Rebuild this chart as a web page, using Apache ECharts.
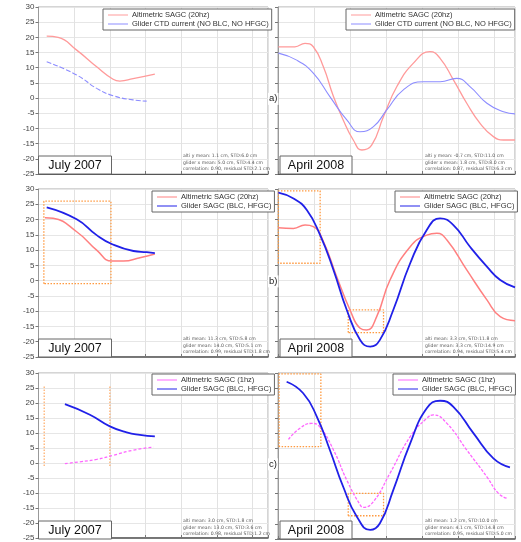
<!DOCTYPE html>
<html><head><meta charset="utf-8">
<script src="https://cdn.jsdelivr.net/npm/echarts@6/dist/echarts.min.js"></script>
<style>html,body{margin:0;padding:0;background:#fff}#c{width:521px;height:542px}</style>
</head><body><div id="c"></div>
<script>
// ---------- data (x: along-track position in grid units, y: SAGC in cm) ----------
const yTicks = [-25,-20,-15,-10,-5,0,5,10,15,20,25,30];
const panelDates = ['July 2007','April 2008'];
const rowTags = ['a)','b)','c)'];

const altA_jul = [[0.23,20.4],[0.55,20.0],[1.07,15.8],[1.63,10.3],[2.09,6.2],[2.28,5.6],[2.65,6.4],[3.26,7.9]];
const ctdA_jul = [[0.23,12.0],[1.07,7.6],[1.63,3.2],[2.09,0.8],[2.65,-0.6],[3.03,-1.0]];
const altA_apr = [[0.01,16.9],[0.47,16.9],[0.75,18.0],[0.98,16.9],[1.26,10.3],[1.54,0.5],[1.81,-7.2],[2.09,-13.8],[2.33,-17.1],[2.60,-15.5],[2.93,-6.1],[3.30,3.8],[3.76,11.5],[4.22,15.3],[4.50,13.1],[4.87,6.0],[5.24,-1.7],[5.61,-8.3],[5.98,-12.7],[6.26,-13.8],[6.58,-13.8]];
const ctdA_apr = [[0.01,14.8],[0.52,12.5],[0.98,8.2],[1.44,0.5],[1.91,-7.2],[2.28,-11.1],[2.65,-9.4],[3.02,-3.9],[3.48,2.7],[4.04,5.4],[4.50,5.4],[4.96,6.5],[5.33,3.8],[5.80,-1.7],[6.26,-4.5],[6.58,-5.2]];

const altB_jul = [[0.18,20.6],[0.41,20.4],[1.07,16.0],[1.63,10.0],[2.05,6.4],[2.38,6.4],[2.84,7.5],[3.26,8.7]];
const gldB_jul = [[0.23,24.0],[1.07,20.1],[1.63,14.9],[2.05,12.0],[2.66,9.7],[3.03,9.3],[3.26,9.0]];
const altB_apr = [[0.01,17.3],[0.43,17.1],[0.75,18.2],[0.98,17.7],[1.26,12.8],[1.63,1.3],[2.00,-9.6],[2.28,-15.6],[2.46,-16.2],[2.74,-11.8],[3.11,0.2],[3.67,11.1],[4.13,14.9],[4.41,15.5],[4.69,13.3],[5.24,3.5],[5.80,-6.3],[6.17,-11.8],[6.58,-13.1]];
const gldB_apr = [[0.01,28.8],[0.43,26.9],[0.80,23.1],[1.17,14.9],[1.54,3.5],[1.91,-9.6],[2.28,-19.4],[2.56,-21.6],[2.83,-19.4],[3.20,-9.6],[3.67,5.7],[4.13,16.6],[4.50,20.4],[4.87,18.2],[5.33,11.1],[5.80,4.6],[6.17,0.2],[6.58,-2.2]];

const altC_jul = [[0.74,-0.2],[1.16,0.4],[1.63,1.2],[2.10,2.6],[2.66,4.3],[3.22,5.3]];
const gldC_jul = [[0.74,19.6],[1.44,16.1],[2.00,12.2],[2.47,10.2],[2.84,9.4],[3.26,8.9]];
const altC_apr = [[0.29,8.0],[0.61,11.7],[0.94,13.3],[1.17,12.0],[1.54,4.5],[1.91,-5.5],[2.28,-13.7],[2.37,-14.5],[2.65,-12.6],[3.11,-3.2],[3.67,8.9],[4.13,15.0],[4.31,16.1],[4.69,13.3],[5.24,4.5],[5.80,-4.4],[6.12,-9.9],[6.35,-11.5]];
const gldC_apr = [[0.24,27.1],[0.70,23.3],[1.08,15.5],[1.44,4.5],[1.81,-7.7],[2.19,-17.6],[2.56,-22.0],[2.83,-19.8],[3.20,-8.8],[3.67,6.7],[4.13,18.3],[4.50,20.8],[4.87,18.8],[5.43,10.0],[5.98,1.7],[6.44,-1.3]];

// comparison windows [x0, x1, y0, y1]
const boxB_jul = [0.15,2.03,-1,26];
const boxB_apr1 = [0.01,1.17,5.7,29.4];
const boxB_apr2 = [1.95,2.93,-17.0,-9.6];
const barsC_jul = [[0.16,-1,26],[2.0,-1,26]];
const boxC_apr1 = [0.03,1.19,5.6,29.7];
const boxC_apr2 = [1.95,2.93,-17.3,-9.9];

const names = {
  alt20: 'Altimetric SAGC (20hz)',
  alt1: 'Altimetric SAGC (1hz)',
  ctd: 'Glider CTD current (NO BLC, NO HFGC)',
  gld: 'Glider SAGC (BLC, HFGC)'
};
const stats = [
  ['alti y mean: 1.1 cm, STD:6.0 cm','glider x mean: 5.0 cm, STD:4.4 cm','correlation: 0.90, residual STD:2.1 cm'],
  ['alti y mean: -0.7 cm, STD:11.0 cm','glider x mean: 1.8 cm, STD:8.0 cm','correlation: 0.87, residual STD:6.3 cm'],
  ['alti mean: 11.3 cm, STD:5.8 cm','glider mean: 14.0 cm, STD:5.1 cm','correlation: 0.99, residual STD:1.8 cm'],
  ['alti mean: 3.3 cm, STD:11.8 cm','glider mean: 3.3 cm, STD:14.9 cm','correlation: 0.94, residual STD:5.4 cm'],
  ['alti mean: 3.0 cm, STD:1.8 cm','glider mean: 13.0 cm, STD:3.6 cm','correlation: 0.98, residual STD:1.2 cm'],
  ['alti mean: 1.2 cm, STD:10.0 cm','glider mean: 4.1 cm, STD:14.8 cm','correlation: 0.95, residual STD:5.0 cm']
];

// ---------- layout ----------
const rows = [{top:7,h:167},{top:189,h:168},{top:373,h:166}];
const cols = [{left:38.5,w:229.5,max:6.43},{left:278,w:237,max:6.58}];
const FONT = '"Liberation Sans", Arial, sans-serif';

const grids=[], xAxes=[], yAxes=[], series=[], legends=[], graphics=[];
let gi=0;
rows.forEach((r,ri)=>{
  cols.forEach((c,ci)=>{
    grids.push({left:c.left, top:r.top, width:c.w, height:r.h, show:true, borderColor:'#aaa', borderWidth:1, backgroundColor:'#fff'});
    xAxes.push({type:'value', gridIndex:gi, min:0, max:c.max, interval:1,
      axisLine:{show:true, onZero:false, lineStyle:{color:'#555', width:ri===0?1:1.5}},
      axisTick:{show:true, inside:true, length:3, lineStyle:{color:'#777'}},
      axisLabel:{show:false},
      splitLine:{show:true, lineStyle:{color:'#e2e2e2', width:1}}});
    yAxes.push({type:'value', gridIndex:gi, min:yTicks[0], max:yTicks[yTicks.length-1], interval:5,
      axisLine:{show:true, onZero:false, lineStyle:{color:'#999'}},
      axisTick:{show:true, length:3, lineStyle:{color:'#777'}},
      axisLabel:{show:ci===0, fontSize:8, color:'#444', margin:4, fontFamily:FONT},
      splitLine:{show:true, lineStyle:{color:'#e6e6e6', width:1}}});
    gi++;
  });
});

function line(name, data, g, color, width, type){
  series.push({name:name, type:'line', xAxisIndex:g, yAxisIndex:g, data:data, smooth:0.5,
    symbol:'none', showSymbol:false, silent:true, z:3,
    lineStyle:{color:color, width:width, type:type||'solid'}});
}
function box(b, g){
  series.push({type:'line', xAxisIndex:g, yAxisIndex:g, symbol:'none', silent:true, z:2,
    data:[[b[0],b[2]],[b[0],b[3]],[b[1],b[3]],[b[1],b[2]],[b[0],b[2]]],
    lineStyle:{color:'#ff9a40', width:1.3, type:[1.5,1.5]}});
}
function bar(v, g){
  series.push({type:'line', xAxisIndex:g, yAxisIndex:g, symbol:'none', silent:true, z:2,
    data:[[v[0],v[1]],[v[0],v[2]]],
    lineStyle:{color:'#ffb070', width:1.3, type:[1.5,1.5]}});
}

const cRedA='#ff9a9a', cBlueA='#8c8cff', cRed='#ff8080', cBlue='#2020e8', cMag='#ff66ff';
line(names.alt20, altA_jul, 0, cRedA, 1.3);
line(names.ctd, ctdA_jul, 0, cBlueA, 1.1, [5,2]);
line(names.alt20, altA_apr, 1, cRedA, 1.3);
line(names.ctd, ctdA_apr, 1, cBlueA, 1.1);
box(boxB_jul, 2);
line(names.alt20, altB_jul, 2, cRed, 1.5);
line(names.gld, gldB_jul, 2, cBlue, 1.8);
box(boxB_apr1, 3); box(boxB_apr2, 3);
line(names.alt20, altB_apr, 3, cRed, 1.5);
line(names.gld, gldB_apr, 3, cBlue, 1.8);
barsC_jul.forEach(v=>bar(v,4));
line(names.alt1, altC_jul, 4, cMag, 1.3, [3,2]);
line(names.gld, gldC_jul, 4, cBlue, 1.8);
box(boxC_apr1, 5); box(boxC_apr2, 5);
line(names.alt1, altC_apr, 5, cMag, 1.3, [3,1.5]);
line(names.gld, gldC_apr, 5, cBlue, 1.8);

function legend(items, left, top){
  legends.push({orient:'vertical', left:left, top:top, itemGap:1, itemWidth:20, itemHeight:8,
    padding:[2,3,2,5], backgroundColor:'#fff', borderColor:'#666', borderWidth:1,
    selectedMode:false,
    textStyle:{fontSize:7.5, color:'#333', fontFamily:FONT, padding:[0,0,0,-1]},
    data:items.map(it=>({name:it[0], icon:'path://M0,4 L20,4 L20,5 L0,5 Z', itemStyle:{color:it[1]}}))});
}
legend([[names.alt20,cRedA],[names.ctd,cBlueA]], 103, 9);
legend([[names.alt20,cRedA],[names.ctd,cBlueA]], 346, 9);
legend([[names.alt20,cRed],[names.gld,cBlue]], 152, 191);
legend([[names.alt20,cRed],[names.gld,cBlue]], 395, 191);
legend([[names.alt1,cMag],[names.gld,cBlue]], 152, 374);
legend([[names.alt1,cMag],[names.gld,cBlue]], 393, 374);

// date boxes, row tags, stats
rows.forEach((r,ri)=>{
  const bottom = r.top + r.h;
  cols.forEach((c,ci)=>{
    const bx = c.left + (ci===0 ? 0 : 2), bw = ci===0 ? 73 : 72;
    graphics.push({type:'rect', x:bx, y:bottom-18, z:10,
      shape:{x:0, y:0, width:bw, height:18}, style:{fill:'#fff', stroke:'#666', lineWidth:1}});
    graphics.push({type:'text', x:bx+bw/2, y:bottom-8.5, z:11,
      style:{text:panelDates[ci], font:'12.5px '+FONT, fill:'#111', align:'center', verticalAlign:'middle'}});
    const st = stats[ri*2+ci];
    const sx = ci===0 ? 183 : 425;
    st.forEach((s,k)=>{
      graphics.push({type:'text', x:sx, y:bottom-18+k*6.5, z:11,
        style:{text:s, font:'4.6px "DejaVu Sans"', fill:'#555', verticalAlign:'middle'}});
    });
  });
  graphics.push({type:'text', x:268, y:r.top+r.h*0.55, z:12,
    style:{text:rowTags[ri], font:'9.5px '+FONT, fill:'#222', backgroundColor:'#fff', padding:[1,1], verticalAlign:'middle'}});
});

const chart = echarts.init(document.getElementById('c'), null, {renderer:'canvas'});
chart.setOption({animation:false, backgroundColor:'#fff', grid:grids, xAxis:xAxes, yAxis:yAxes, series:series, legend:legends, graphic:graphics});
</script></body></html>
